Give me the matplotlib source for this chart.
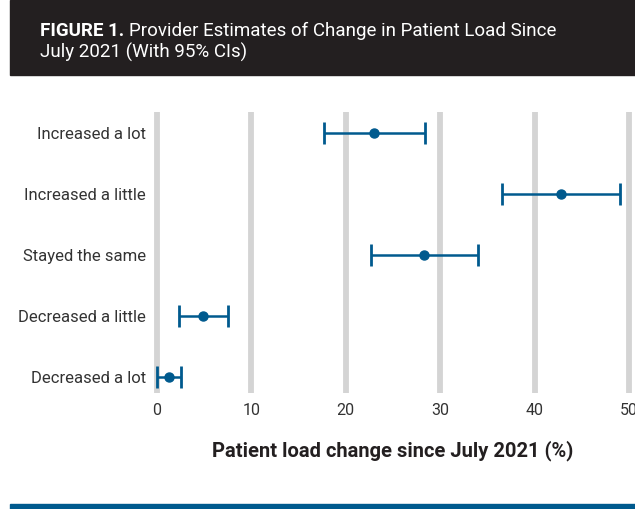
import matplotlib.pyplot as plt
from matplotlib.patches import Rectangle

plt.rcParams['font.family'] = ['Roboto', 'DejaVu Sans']

# data
categories = ["Increased a lot", "Increased a little", "Stayed the same",
              "Decreased a little", "Decreased a lot"]
estimate = [23.0, 42.8, 28.3, 4.9, 1.3]
ci_low = [17.7, 36.6, 22.7, 2.3, 0.0]
ci_high = [28.4, 49.0, 34.0, 7.5, 2.5]
x_ticks = [0, 10, 20, 30, 40, 50]

blue = "#005a8e"
dark = "#231f20"

fig = plt.figure(figsize=(6.35, 5.09), dpi=100)

# header box and bottom rule
fig.patches.append(Rectangle((10 / 635, 1 - 75 / 509), 1, 75 / 509,
                             transform=fig.transFigure, color=dark, zorder=0))
fig.patches.append(Rectangle((10 / 635, 0), 1, 5 / 509,
                             transform=fig.transFigure, color=blue, zorder=0))
head = fig.text(40 / 635, 1 - 36 / 509, "FIGURE 1.", color="white", fontsize=13.5,
                fontweight="bold", va="baseline")
fig.canvas.draw()
bb = head.get_window_extent()
fig.text((bb.x1 + 5) / 635, 1 - 36 / 509, "Provider Estimates of Change in Patient Load Since",
         color="white", fontsize=13.5, va="baseline")
fig.text(40 / 635, 1 - 58 / 509, "July 2021 (With 95% CIs)", color="white",
         fontsize=13.5, va="baseline")

ax = fig.add_axes([154.2 / 635, 1 - 393 / 509, (631.8 - 154.2) / 635, (393 - 112) / 509])
ypos = list(range(len(categories)))
ax.set_xlim(-0.3, 50.3)
ax.set_ylim(4.26, -0.34)

for t in x_ticks:
    ax.axvline(t, color="#d4d4d4", lw=4.2, zorder=0)

err = [[e - l for e, l in zip(estimate, ci_low)], [h - e for e, h in zip(estimate, ci_high)]]
ax.errorbar(estimate, ypos, xerr=err, fmt="o", color=blue, ms=6.5, elinewidth=1.8,
            capsize=8, capthick=2, zorder=3)

ax.set_yticks(ypos)
ax.set_yticklabels(categories, fontsize=12, color="#333333")
ax.set_xticks(x_ticks)
ax.set_xticklabels([str(t) for t in x_ticks], fontsize=11.5, color="#333333")
ax.tick_params(axis="x", length=0, pad=7)
ax.tick_params(axis="y", length=0, pad=6)
for s in ax.spines.values():
    s.set_visible(False)

ax.set_xlabel("Patient load change since July 2021 (%)", fontsize=14.5,
              fontweight="bold", color=dark, labelpad=16)

fig.savefig("out.png", dpi=100)
